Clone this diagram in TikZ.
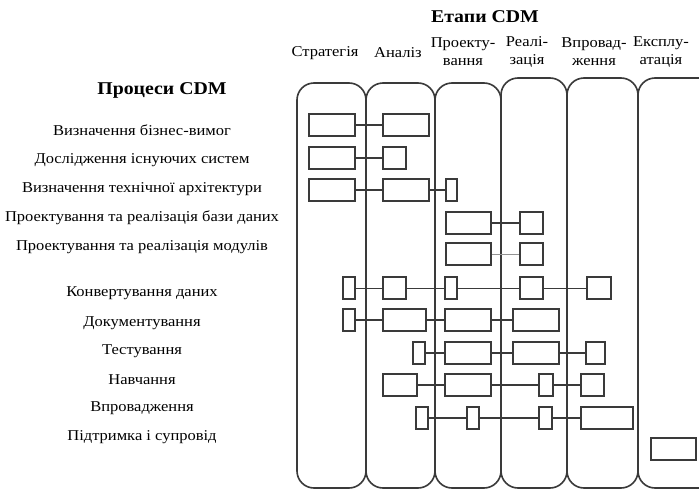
\documentclass[tikz,border=0pt]{standalone}
\usepackage{fontspec}
\setmainfont{Liberation Serif}
\newfontfamily\wideserif[FakeStretch=1.1]{Liberation Serif}
\begin{document}
\begin{tikzpicture}[x=1pt,y=-1pt,
  col/.style={draw=linegray, line width=1.6pt, rounded corners=17pt},
  bx/.style={draw=linegray, line width=1.6pt, minimum height=22pt, inner sep=0pt, rectangle},
  lnk/.style={draw=linegray, line width=1.4pt},
  thinlnk/.style={draw=linegray, line width=0.8pt},
  graylnk/.style={draw=gray!85, line width=1pt},
  lbl/.style={font=\wideserif\fontsize{15}{17}\selectfont, inner sep=0pt},
  hdr/.style={font=\wideserif\fontsize{15}{18}\selectfont, align=center, inner sep=0pt},
  ttl/.style={font=\wideserif\fontsize{18}{20}\selectfont\bfseries, inner sep=0pt}]
\definecolor{linegray}{HTML}{3A3A3A}
\clip (0,0) rectangle (699,490);
\fill[white] (0,0) rectangle (699,490);
% columns
\draw[col] (297,83) rectangle (366,488);
\draw[col] (366,83) rectangle (435,488);
\draw[col] (435,83) rectangle (501,488);
\draw[col] (501,78) rectangle (567,488);
\draw[col] (567,78) rectangle (638,488);
\draw[col] (638,78) rectangle (720,488);
% titles
\node[ttl] (t1) at (485,17) {Етапи CDM};
\node[ttl] (t2) at (162,90) {Процеси CDM};
% headers
\node[hdr] (h1) at (325,53) {Стратегія};
\node[hdr] (h2) at (398,53) {Аналіз};
\node[hdr] (h3) at (463,52) {Проекту-\\вання};
\node[hdr] (h4) at (527,52) {Реалі-\\зація};
\node[hdr] (h5) at (594,52) {Впровад-\\ження};
\node[hdr] (h6) at (661,52) {Експлу-\\атація};
% row labels
\node[lbl] (l1) at (142,130) {Визначення бізнес-вимог};
\node[lbl] (l2) at (142,160) {Дослідження існуючих систем};
\node[lbl] (l3) at (142,189) {Визначення технічної архітектури};
\node[lbl] (l4) at (142,218) {Проектування та реалізація бази даних};
\node[lbl] (l5) at (142,247) {Проектування та реалізація модулів};
\node[lbl] (l6) at (142,293) {Конвертування даних};
\node[lbl] (l7) at (142,323) {Документування};
\node[lbl] (l8) at (142,351) {Тестування};
\node[lbl] (l9) at (142,380) {Навчання};
\node[lbl] (l10) at (142,408) {Впровадження};
\node[lbl] (l11) at (142,437) {Підтримка і супровід};
% row 1
\node[bx, minimum width=46pt] (r1a) at (332,125) {};
\node[bx, minimum width=46pt] (r1b) at (406,125) {};
\draw[lnk] (r1a) -- (r1b);
% row 2
\node[bx, minimum width=46pt] (r2a) at (332,158) {};
\node[bx, minimum width=23pt] (r2b) at (394.5,158) {};
\draw[lnk] (r2a) -- (r2b);
% row 3
\node[bx, minimum width=46pt] (r3a) at (332,190) {};
\node[bx, minimum width=46pt] (r3b) at (406,190) {};
\node[bx, minimum width=11pt] (r3c) at (451.5,190) {};
\draw[lnk] (r3a) -- (r3b) -- (r3c);
% row 4
\node[bx, minimum width=45pt] (r4a) at (468.5,223) {};
\node[bx, minimum width=23pt] (r4b) at (531.5,223) {};
\draw[lnk] (r4a) -- (r4b);
% row 5
\node[bx, minimum width=45pt] (r5a) at (468.5,254) {};
\node[bx, minimum width=23pt] (r5b) at (531.5,254) {};
\draw[graylnk] (r5a) -- (r5b);
% row 6
\node[bx, minimum width=12pt] (r6a) at (349,288) {};
\node[bx, minimum width=23pt] (r6b) at (394.5,288) {};
\node[bx, minimum width=12pt] (r6c) at (451,288) {};
\node[bx, minimum width=23pt] (r6d) at (531.5,288) {};
\node[bx, minimum width=24pt] (r6e) at (599,288) {};
\draw[thinlnk] (r6a) -- (r6b) -- (r6c) -- (r6d) -- (r6e);
% row 7
\node[bx, minimum width=12pt] (r7a) at (349,320) {};
\node[bx, minimum width=43pt] (r7b) at (404.5,320) {};
\node[bx, minimum width=46pt] (r7c) at (468,320) {};
\node[bx, minimum width=46pt] (r7d) at (536,320) {};
\draw[lnk] (r7a) -- (r7b) -- (r7c) -- (r7d);
% row 8
\node[bx, minimum width=12pt] (r8a) at (419,353) {};
\node[bx, minimum width=46pt] (r8b) at (468,353) {};
\node[bx, minimum width=46pt] (r8c) at (536,353) {};
\node[bx, minimum width=19pt] (r8d) at (595.5,353) {};
\draw[lnk] (r8a) -- (r8b) -- (r8c) -- (r8d);
% row 9
\node[bx, minimum width=34pt] (r9a) at (400,385) {};
\node[bx, minimum width=46pt] (r9b) at (468,385) {};
\node[bx, minimum width=14pt] (r9c) at (546,385) {};
\node[bx, minimum width=23pt] (r9d) at (592.5,385) {};
\draw[lnk] (r9a) -- (r9b) -- (r9c) -- (r9d);
% row 10
\node[bx, minimum width=12pt] (r10a) at (422,418) {};
\node[bx, minimum width=12pt] (r10b) at (473,418) {};
\node[bx, minimum width=13pt] (r10c) at (545.5,418) {};
\node[bx, minimum width=52pt] (r10d) at (607,418) {};
\draw[lnk] (r10a) -- (r10b) -- (r10c) -- (r10d);
% row 11
\node[bx, minimum width=45pt] (r11a) at (673.5,449) {};
\end{tikzpicture}
\end{document}
